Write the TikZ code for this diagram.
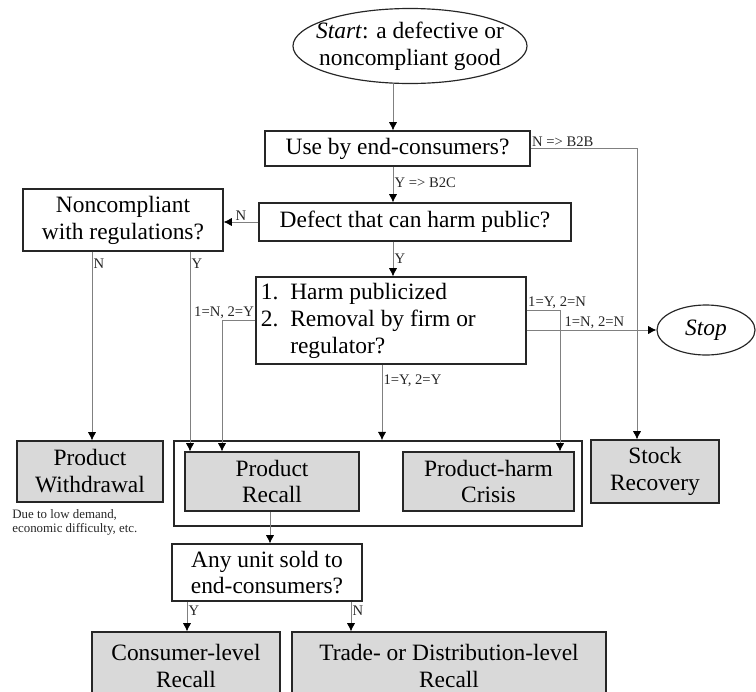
\documentclass[tikz,border=0pt]{standalone}
\usepackage{fontspec}
\setmainfont{Liberation Serif}
\usepackage{xcolor}
\usetikzlibrary{arrows.meta,positioning,shapes.geometric}

\begin{document}
\begin{tikzpicture}[x=0.03cm,y=-0.03cm,
  box/.style={draw=black!85,line width=1pt,fill=white,align=center,inner sep=0pt,font=\fontsize{20}{23}\selectfont},
  outcome/.style={box,fill=gray!30},
  lab/.style={font=\fontsize{12.5}{13}\selectfont,inner sep=1pt,text=black!85},
  flow/.style={draw=gray,line width=0.7pt,-{Latex[color=black,length=7pt,width=7pt]}}]
\useasboundingbox (0,0) rectangle (756,691);

% questions
\node[box,ellipse,minimum width=7.02cm,minimum height=2.25cm,inner xsep=-10pt] (start) at (410,46) {\textit{Start}: a defective or\\noncompliant good};
\node[box,minimum width=7.95cm,minimum height=1.05cm] (usebox) at (397.5,148.5) {Use by end-consumers?};
\node[box,minimum width=9.36cm,minimum height=1.14cm] (defect) at (415,222) {Defect that can harm public?};
\node[box,minimum width=6cm,minimum height=1.86cm] (noncomp) at (123,220) {Noncompliant\\with regulations?};
\node[box,minimum width=8.1cm,minimum height=2.61cm,text width=7.8cm,align=flush left] (harm) at (391,320.5)
  {1.\ \ Harm publicized\\2.\ \ Removal by firm or\\\hphantom{2.\ \ }regulator?};
\node[box,ellipse,minimum width=2.94cm,minimum height=1.5cm] (stop) at (706,330) {\textit{Stop}};
\node[box,minimum width=5.7cm,minimum height=1.71cm] (anyunit) at (267,572.5) {Any unit sold to\\end-consumers?};

% outcomes
\node[outcome,minimum width=4.38cm,minimum height=1.83cm] (withdraw) at (90,471.5) {Product\\Withdrawal};
\node[draw=black!85,line width=1.4pt,minimum width=12.24cm,minimum height=2.55cm] (group) at (378,483.5) {};
\node[outcome,minimum width=5.22cm,minimum height=1.77cm] (recall) at (272,481.5) {Product\\Recall};
\node[outcome,minimum width=5.13cm,minimum height=1.77cm] (crisis) at (488.5,481.5) {Product-harm\\Crisis};
\node[outcome,minimum width=3.84cm,minimum height=1.89cm] (stock) at (655,471.5) {Stock\\Recovery};
\node[outcome,minimum width=5.64cm,minimum height=2.04cm] (consumer) at (186,666) {Consumer-level\\Recall};
\node[outcome,minimum width=9.42cm,minimum height=2.04cm] (trade) at (449,666) {Trade- or Distribution-level\\Recall};
\node[lab,font=\fontsize{11}{12}\selectfont,align=left,anchor=north west] (note) at (11,508) {Due to low demand,\\economic difficulty, etc.};

% line positions
\coordinate (spine) at (393,0);
\coordinate (wdx) at (92,0);
\coordinate (ncy) at (190,0);
\coordinate (nyx) at (222,0);
\coordinate (bothx) at (382,0);
\coordinate (crx) at (560,0);
\coordinate (b2bx) at (637,0);
\coordinate (anyx) at (270,0);
\coordinate (clx) at (187,0);
\coordinate (trx) at (351,0);
\coordinate (hy1) at (0,310);

\draw[flow] (start.south -| spine) -- (usebox.north -| spine);
\draw[flow] (usebox.south -| spine) -- (defect.north -| spine) node[lab,pos=0.45,anchor=west] (lb2c) {Y => B2C};
\draw[flow] (usebox.east) -| (stock.north -| b2bx) node[lab,pos=0,anchor=south west] (lb2b) {N => B2B};
\draw[flow] (defect.west) -- (noncomp.east |- defect.west) node[lab,midway,above] (lnc) {N};
\draw[flow] (noncomp.south -| wdx) -- (withdraw.north -| wdx) node[lab,pos=0.03,anchor=north west] (lnw) {N};
\draw[flow] (noncomp.south -| ncy) -- (recall.north -| ncy) node[lab,pos=0.03,anchor=north west] (lyr) {Y};
\draw[flow] (defect.south -| spine) -- (harm.north -| spine) node[lab,midway,anchor=west] (lyh) {Y};
\draw[flow] (harm.west) -| (recall.north -| nyx) node[lab,pos=0,anchor=south east] (lny) {1=N, 2=Y};
\draw[flow] (harm.south -| bothx) -- (group.north -| bothx) node[lab,pos=0.12,anchor=north west] (lyy) {1=Y, 2=Y};
\draw[flow] (harm.east |- hy1) -| (crisis.north -| crx) node[lab,pos=0,anchor=south west] (lyn) {1=Y, 2=N};
\draw[flow] (harm.east |- stop) -- (stop.west) node[lab,pos=0.28,anchor=south west] (lnn) {1=N, 2=N};
\draw[flow] (recall.south -| anyx) -- (anyunit.north -| anyx);
\draw[flow] (anyunit.south -| clx) -- (consumer.north -| clx) node[lab,pos=0.1,anchor=north west] (lyc) {Y};
\draw[flow] (anyunit.south -| trx) -- (trade.north -| trx) node[lab,pos=0.1,anchor=north west] (lnt) {N};
\end{tikzpicture}
\end{document}
